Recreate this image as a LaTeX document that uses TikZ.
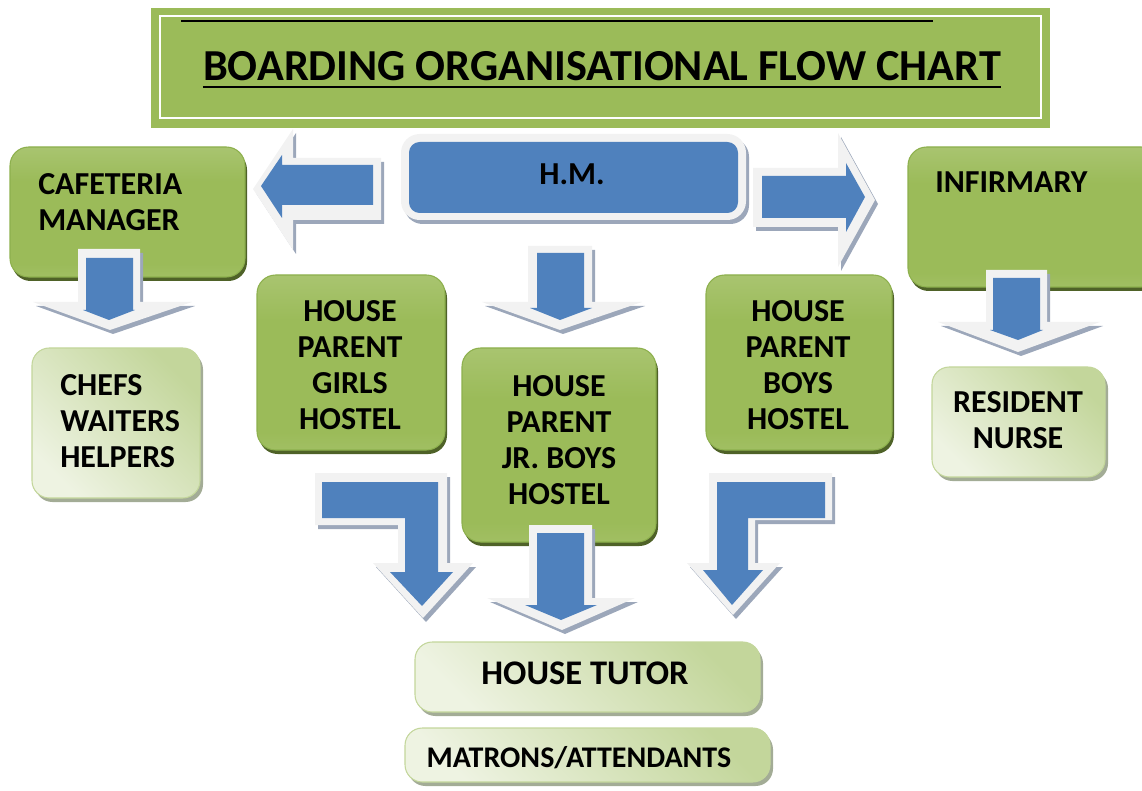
\documentclass[tikz,border=0pt]{standalone}
\usepackage{fontspec}
\setmainfont{Carlito}
\definecolor{blueA}{HTML}{4F81BD}
\definecolor{whiteA}{HTML}{F2F2F2}
\definecolor{shadowA}{HTML}{9CA7BA}
\definecolor{GA}{HTML}{C3D69B}
\definecolor{GB}{HTML}{9BBB59}
\definecolor{GC}{HTML}{C0D495}
\definecolor{Gborder}{HTML}{8DB04D}
\definecolor{Gshadow}{HTML}{4F6228}
\definecolor{LGA}{HTML}{EEF3E2}
\definecolor{LGB}{HTML}{C3D69B}
\definecolor{LGshadow}{HTML}{A3AC96}
\definecolor{titleG}{HTML}{9BBB59}
\pgfdeclareverticalshading{gshade}{100bp}{color(0bp)=(GC); color(30bp)=(GB); color(62bp)=(GB); color(100bp)=(GA)}
\tikzset{
  txt/.style={inner sep=0pt, font=\fontsize{24}{27}\selectfont\bfseries, align=center},
  txtl/.style={inner sep=0pt, font=\fontsize{24}{27}\selectfont\bfseries, align=left},
  ashadow/.style={fill=shadowA, shift={(3,4)}},
  awhite/.style={fill=whiteA},
  ablue/.style={fill=blueA},
}
\newcommand\gbx[4]{%
  \fill[Gshadow, rounded corners=14pt, shift={(2,4)}] (#1,#2) rectangle (#3,#4);
  \shadedraw[shading=gshade, draw=Gborder, line width=0.8pt, rounded corners=14pt] (#1,#2) rectangle (#3,#4);
}
\newcommand\lbx[4]{%
  \fill[LGshadow, rounded corners=13pt, shift={(3,4)}] (#1,#2) rectangle (#3,#4);
  \shadedraw[left color=LGA, right color=LGB, shading angle=135, draw=LGB, line width=0.8pt, rounded corners=13pt] (#1,#2) rectangle (#3,#4);
}
\begin{document}
\begin{tikzpicture}[x=0.75pt,y=-0.75pt]
\useasboundingbox (0,0) rectangle (1142,791);
% title
\fill[titleG] (151,8) rectangle (1050,128);
\draw[white, line width=2pt] (160,16) rectangle (1041,118);
\draw[black, line width=1.3pt] (181,21) -- (933,21);
\node[inner sep=0pt, font=\fontsize{33.2}{38}\selectfont\bfseries, anchor=base] (title) at (602,81) {BOARDING ORGANISATIONAL FLOW CHART};
\draw[line width=2.2pt] ([yshift=-4.5pt]title.base west) -- ([yshift=-4.5pt]title.base east);
% HM box
\fill[shadowA, rounded corners=14pt, shift={(3,4)}] (401,134) rectangle (746,220);
\fill[whiteA, rounded corners=14pt] (401,134) rectangle (746,220);
\fill[blueA, rounded corners=8pt] (409,142) rectangle (738,213);
\node[txt, anchor=base] (hm) at (572,185) {H.M.};
% boxes
\gbx{10}{147}{245}{277}
\lbx{32}{348}{200}{498}
\gbx{257}{275}{445}{450}
\gbx{462}{348}{656}{542}
\gbx{706}{275}{892}{450}
\gbx{908}{147}{1160}{287}
\lbx{932}{367}{1105}{477}
\lbx{415}{642}{760}{712}
\lbx{405}{728}{770}{782}
% texts
\node[txtl, anchor=north west] (caf) at (38,173) {CAFETERIA\\MANAGER};
\node[txtl, anchor=north west] (chefs) at (60,374) {CHEFS\\WAITERS\\HELPERS};
\node[txt, anchor=north] (girls) at (350,300) {HOUSE\\PARENT\\GIRLS\\HOSTEL};
\node[txt, anchor=north] (jr) at (559,375) {HOUSE\\PARENT\\JR. BOYS\\HOSTEL};
\node[txt, anchor=north] (boys) at (798,300) {HOUSE\\PARENT\\BOYS\\HOSTEL};
\node[txtl, anchor=base west] (inf) at (935,193) {INFIRMARY};
\node[txt, anchor=north] (nurse) at (1018,391) {RESIDENT\\NURSE};
\node[txt, font=\fontsize{25.9}{30}\selectfont\bfseries, anchor=base] (tutor) at (585,684) {HOUSE TUTOR};
\node[txt, font=\fontsize{22.5}{27}\selectfont\bfseries, anchor=base] (matrons) at (579,767) {MATRONS/ATTENDANTS};
% arrow HM -> cafeteria
\fill[ashadow] (381,158) -- (293,158) -- (293,129) -- (253,189) -- (293,250) -- (293,220) -- (381,220) -- cycle;
\fill[awhite] (381,158) -- (293,158) -- (293,129) -- (253,189) -- (293,250) -- (293,220) -- (381,220) -- cycle;
\fill[ablue] (373,165) -- (282,165) -- (282,155) -- (261,186) -- (282,218) -- (282,205) -- (373,205) -- cycle;
% arrow HM -> infirmary
\fill[ashadow] (753,168) -- (838,168) -- (838,133) -- (875,200) -- (838,267) -- (838,227) -- (753,227) -- cycle;
\fill[awhite] (753,168) -- (838,168) -- (838,133) -- (875,200) -- (838,267) -- (838,227) -- (753,227) -- cycle;
\fill[ablue] (762,176) -- (846,176) -- (846,163) -- (865,197) -- (846,232) -- (846,218) -- (762,218) -- cycle;
% arrow HM down
\fill[ashadow] (528,246) -- (592,246) -- (592,302) -- (642,302) -- (560,330) -- (482,302) -- (528,302) -- cycle;
\fill[awhite] (528,246) -- (592,246) -- (592,302) -- (642,302) -- (560,330) -- (482,302) -- (528,302) -- cycle;
\fill[ablue] (537,253) -- (584,253) -- (584,308) -- (592,308) -- (560,320) -- (530,308) -- (537,308) -- cycle;
% arrow cafeteria -> chefs
\fill[ashadow] (78,249) -- (140,249) -- (140,302) -- (192,302) -- (110,330) -- (33,302) -- (78,302) -- cycle;
\fill[awhite] (78,249) -- (140,249) -- (140,302) -- (192,302) -- (110,330) -- (33,302) -- (78,302) -- cycle;
\fill[ablue] (86,258) -- (133,258) -- (133,310) -- (135,310) -- (109,320) -- (83,310) -- (86,310) -- cycle;
% arrow infirmary -> nurse
\fill[ashadow] (986,270) -- (1047,270) -- (1047,322) -- (1100,322) -- (1018,352) -- (938,322) -- (986,322) -- cycle;
\fill[awhite] (986,270) -- (1047,270) -- (1047,322) -- (1100,322) -- (1018,352) -- (938,322) -- (986,322) -- cycle;
\fill[ablue] (993,278) -- (1040,278) -- (1040,330) -- (1043,330) -- (1018,340) -- (990,330) -- (993,330) -- cycle;
% arrow jr -> tutor
\fill[ashadow] (529,525) -- (592,525) -- (592,598) -- (635,598) -- (562,630) -- (487,598) -- (529,598) -- cycle;
\fill[awhite] (529,525) -- (592,525) -- (592,598) -- (635,598) -- (562,630) -- (487,598) -- (529,598) -- cycle;
\fill[ablue] (537,533) -- (584,533) -- (584,605) -- (597,605) -- (561,620) -- (525,605) -- (537,605) -- cycle;
% bent arrow girls -> tutor
\fill[ashadow] (315,473) -- (447,473) -- (447,563) -- (473,563) -- (423,618) -- (373,563) -- (398,563) -- (398,525) -- (315,525) -- cycle;
\fill[awhite] (315,473) -- (447,473) -- (447,563) -- (473,563) -- (423,618) -- (373,563) -- (398,563) -- (398,525) -- (315,525) -- cycle;
\fill[ablue] (322,482) -- (438,482) -- (438,572) -- (453,572) -- (422,606) -- (390,572) -- (405,572) -- (405,518) -- (322,518) -- cycle;
% bent arrow boys -> tutor
\fill[ashadow] (832,473) -- (709,473) -- (709,563) -- (687,563) -- (733,615) -- (780,563) -- (755,563) -- (755,520) -- (832,520) -- cycle;
\fill[awhite] (832,473) -- (709,473) -- (709,563) -- (687,563) -- (733,615) -- (780,563) -- (755,563) -- (755,520) -- (832,520) -- cycle;
\fill[ablue] (825,482) -- (717,482) -- (717,570) -- (703,570) -- (732,605) -- (763,570) -- (748,570) -- (748,518) -- (825,518) -- cycle;
\end{tikzpicture}
\end{document}
